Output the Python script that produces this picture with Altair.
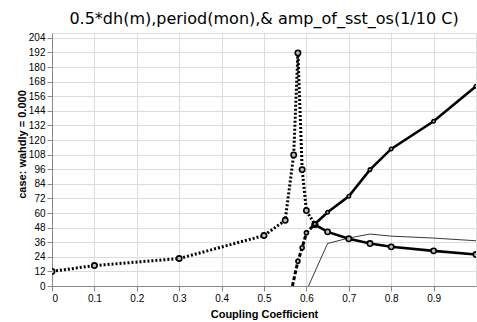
import altair as alt
import pandas as pd

# Series A (dotted up to 0.62, then solid)
a_dot_x = [0.0, 0.1, 0.3, 0.5, 0.55, 0.57, 0.58, 0.59, 0.60, 0.62]
a_dot_y = [12.0, 16.8, 22.6, 41.5, 54.0, 107.8, 191.6, 95.7, 62.0, 50.5]
a_sol_x = [0.62, 0.65, 0.70, 0.75, 0.80, 0.90, 1.00]
a_sol_y = [50.5, 44.5, 38.8, 34.9, 32.2, 28.9, 25.9]

# Series B (dashed up to 0.62, then solid)
b_dash_x = [0.567, 0.58, 0.59, 0.60, 0.62]
b_dash_y = [0.0, 20.4, 31.4, 43.7, 51.0]
b_sol_x = [0.62, 0.65, 0.70, 0.75, 0.80, 0.90, 1.00]
b_sol_y = [51.0, 60.6, 73.8, 95.7, 112.7, 135.4, 164.2]

# Series C (thin line)
c_x = [0.605, 0.65, 0.70, 0.75, 0.80, 0.90, 1.00]
c_y = [0.0, 35.0, 39.4, 42.7, 41.0, 39.4, 37.2]

x_ticks = [0, 0.1, 0.2, 0.3, 0.4, 0.5, 0.6, 0.7, 0.8, 0.9]
y_ticks = [0, 12, 24, 36, 48, 60, 72, 84, 96, 108, 120, 132, 144, 156, 168, 180, 192, 204]

title_text = "0.5*dh(m),period(mon),& amp_of_sst_os(1/10 C)"


def df(xs, ys):
    return pd.DataFrame({"x": xs, "y": ys})


xs = alt.Scale(domain=[0, 1.0], nice=False, zero=False)
ys = alt.Scale(domain=[0, 208], nice=False)

xenc = alt.X("x:Q", scale=xs, axis=alt.Axis(
    values=x_ticks, title="Coupling Coefficient",
    labelExpr="datum.value == 0 ? '0' : format(datum.value, '.1f')",
    titleY=31, titleBaseline="alphabetic"))
yenc = alt.Y("y:Q", scale=ys, axis=alt.Axis(
    values=y_ticks, title="case: wahdly = 0.000",
    titleX=-30, titleY=111, titleAngle=-90, titleAlign="center", titleBaseline="middle"))


def line(d, dash=None, width=3.0, color="black"):
    kw = dict(color=color, strokeWidth=width, clip=True)
    if dash:
        kw["strokeDash"] = dash
    return alt.Chart(d).mark_line(**kw).encode(x=xenc, y=yenc)


def pts(d, size=28):
    return alt.Chart(d).mark_point(shape="circle", size=size, filled=False,
                                   stroke="black", strokeWidth=1.6,
                                   fill="#bbbbbb", fillOpacity=1, clip=True).encode(x=xenc, y=yenc)


A1 = df(a_dot_x, a_dot_y)
A2 = df(a_sol_x, a_sol_y)
B1 = df(b_dash_x, b_dash_y)
B2 = df(b_sol_x, b_sol_y)
C = df(c_x, c_y)

chart = alt.layer(
    line(C, width=0.9, color="#222222"),
    line(A1, dash=[2, 2], width=3),
    line(A2, width=2.6),
    line(B1, dash=[4, 2], width=3),
    line(B2, width=2.6),
    pts(A1), pts(A2), pts(B1[B1["y"] > 0], size=16), pts(B2, size=12),
).properties(
    width=424, height=253,
    title=alt.TitleParams(title_text, anchor="middle", font="DejaVu Sans",
                          fontSize=16, fontWeight=500, color="black", offset=6),
    autosize=alt.AutoSizeParams(type="none"),
    padding={"left": 52, "top": 33, "right": 1, "bottom": 36},
).configure_view(
    stroke="black", strokeWidth=2.5
).configure_axis(
    domainColor="black", domainWidth=2.5,
    grid=True, gridColor="#777777", gridDash=[1, 3], gridWidth=1,
    tickColor="black", tickSize=3, tickWidth=1,
    labelFont="Liberation Sans", labelFontSize=7, labelFontWeight="bold", labelColor="black",
    labelPadding=2,
    titleFont="DejaVu Sans", titleFontSize=12, titleFontWeight="bold", titleColor="black",
).configure(background="white")

chart.save("out.html", embed_options={"renderer": "svg", "actions": False})
